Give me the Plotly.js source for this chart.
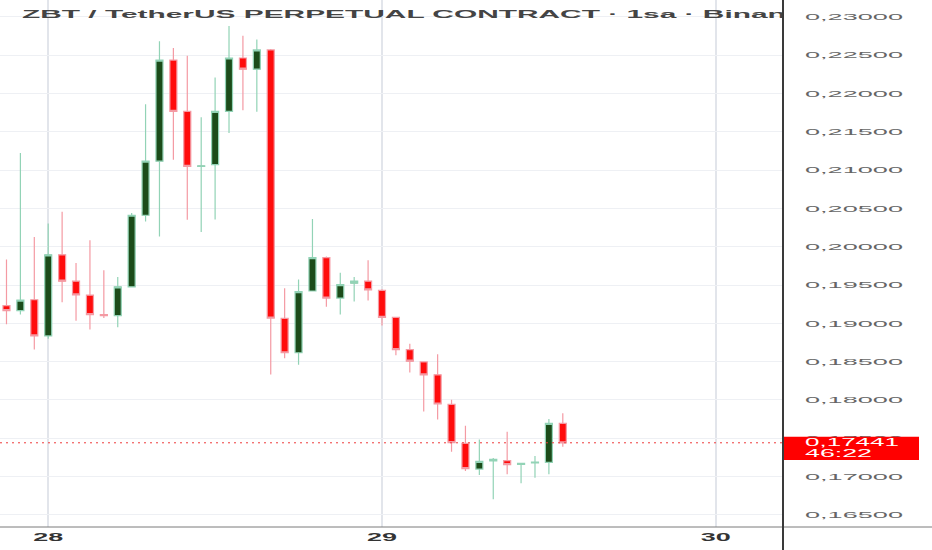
<!DOCTYPE html>
<html>
<head>
<meta charset="utf-8">
<script src="https://cdn.plot.ly/plotly-3.0.1.min.js"></script>
<style>
html,body{margin:0;padding:0;background:#ffffff;}
#chart{width:932px;height:550px;}
</style>
</head>
<body>
<div id="chart"></div>
<script>
// ---------- data ----------
const chartTitle = 'ZBT / TetherUS PERPETUAL CONTRACT · 1sa · Binance';

const times = [
  '2025-11-27 21:00','2025-11-27 22:00','2025-11-27 23:00',
  '2025-11-28 00:00','2025-11-28 01:00','2025-11-28 02:00','2025-11-28 03:00',
  '2025-11-28 04:00','2025-11-28 05:00','2025-11-28 06:00','2025-11-28 07:00',
  '2025-11-28 08:00','2025-11-28 09:00','2025-11-28 10:00','2025-11-28 11:00',
  '2025-11-28 12:00','2025-11-28 13:00','2025-11-28 14:00','2025-11-28 15:00',
  '2025-11-28 16:00','2025-11-28 17:00','2025-11-28 18:00','2025-11-28 19:00',
  '2025-11-28 20:00','2025-11-28 21:00','2025-11-28 22:00','2025-11-28 23:00',
  '2025-11-29 00:00','2025-11-29 01:00','2025-11-29 02:00','2025-11-29 03:00',
  '2025-11-29 04:00','2025-11-29 05:00','2025-11-29 06:00','2025-11-29 07:00',
  '2025-11-29 08:00','2025-11-29 09:00','2025-11-29 10:00','2025-11-29 11:00',
  '2025-11-29 12:00','2025-11-29 13:00'
];

const opens = [
  0.19230,0.19166,0.19308,
  0.18836,0.19894,0.19550,0.19367,
  0.19115,0.19102,0.19477,0.20411,
  0.21117,0.22436,0.21767,0.21048,
  0.21071,0.21767,0.22463,0.22317,
  0.22569,0.19065,0.18616,0.19422,
  0.19857,0.19330,0.19523,0.19550,
  0.19431,0.19079,0.18657,0.18497,
  0.18328,0.17943,0.17434,0.17098,
  0.17206,0.17207,0.17160,0.17178,
  0.17186,0.17695
];

const highs = [
  0.19834,0.21222,0.20127,
  0.20302,0.20457,0.19789,0.20086,
  0.19692,0.19605,0.20439,0.21859,
  0.22683,0.22592,0.22491,0.21689,
  0.22208,0.22880,0.22752,0.22706,
  0.22582,0.19459,0.19573,0.20361,
  0.19871,0.19660,0.19605,0.19825,
  0.19445,0.19079,0.18735,0.18506,
  0.18598,0.18002,0.17663,0.17485,
  0.17242,0.17585,0.17178,0.17268,
  0.17751,0.17825
];

const lows = [
  0.18987,0.19115,0.18657,
  0.18800,0.19276,0.19033,0.18918,
  0.19070,0.18950,0.19477,0.20329,
  0.20132,0.21135,0.20351,0.20191,
  0.20356,0.21483,0.21782,0.21763,
  0.18332,0.18543,0.18460,0.19422,
  0.19216,0.19115,0.19285,0.19298,
  0.18973,0.18584,0.18360,0.17851,
  0.17746,0.17325,0.17073,0.17020,
  0.16703,0.17030,0.16912,0.16985,
  0.17030,0.17390
];

const closes = [
  0.19166,0.19303,0.18836,
  0.19894,0.19550,0.19372,0.19115,
  0.19102,0.19477,0.20411,0.21117,
  0.22436,0.21767,0.21048,0.21057,
  0.21767,0.22463,0.22317,0.22569,
  0.19069,0.18616,0.19413,0.19857,
  0.19330,0.19505,0.19550,0.19436,
  0.19079,0.18657,0.18506,0.18328,
  0.17947,0.17444,0.17105,0.17199,
  0.17226,0.17155,0.17173,0.17188,
  0.17695,0.17441
];

const dayTicks  = ['2025-11-28','2025-11-29','2025-11-30'];
const dayLabels = ['28','29','30'];

const priceTicks = [0.165,0.170,0.175,0.180,0.185,0.190,0.195,0.200,
                    0.205,0.210,0.215,0.220,0.225,0.230];

const lastPrice = 0.17441;
const countdown = '46:22';

// ---------- helpers ----------
const fmtPrice = v => v.toFixed(5).replace('.', ',');
const FONT = 'Liberation Sans, Arial, sans-serif';

const W = 932, H = 550, plotRight = 783, plotBottom = 527;

const trace = {
  type: 'candlestick',
  x: times, open: opens, high: highs, low: lows, close: closes,
  increasing: { line: { color: '#92d3b6', width: 1.2 }, fillcolor: '#1c4c1a' },
  decreasing: { line: { color: '#f49aa3', width: 1.2 }, fillcolor: '#ff0c0c' },
  whiskerwidth: 0,
  hoverinfo: 'skip'
};

const layout = {
  width: W, height: H,
  margin: { l: 0, r: W - plotRight, t: 0, b: H - plotBottom, pad: 0 },
  paper_bgcolor: '#ffffff', plot_bgcolor: '#ffffff',
  showlegend: false,
  separators: ',.',
  boxgap: 0.28,
  title: {
    text: chartTitle,
    x: 22 / W, xref: 'container', xanchor: 'left',
    y: 1 - 13.5 / H, yref: 'container', yanchor: 'middle',
    font: { family: FONT, size: 11.5, color: '#444444', weight: 'bold' }
  },
  xaxis: {
    type: 'date',
    range: ['2025-11-27 20:32', '2025-11-30 04:50'],
    rangeslider: { visible: false },
    tickvals: dayTicks, ticktext: dayLabels,
    showgrid: true, gridcolor: '#e2e5eb', gridwidth: 2,
    zeroline: false, showline: false, ticks: '',
    ticklabelstandoff: 3,
    tickfont: { family: FONT, size: 10, color: '#333333', weight: 'bold' },
    fixedrange: true
  },
  yaxis: {
    side: 'right',
    range: [0.16342, 0.2322],
    tickvals: priceTicks, ticktext: priceTicks.map(fmtPrice),
    showgrid: true, gridcolor: '#eef0f4', gridwidth: 1,
    zeroline: false, showline: false, ticks: '',
    ticklabelstandoff: 21,
    tickfont: { family: FONT, size: 9.2, color: '#666666' },
    fixedrange: true
  },
  shapes: [
    { type: 'line', xref: 'paper', yref: 'y', x0: 0, x1: 1, y0: lastPrice, y1: lastPrice,
      line: { color: '#ee3b3b', width: 1, dash: '2px,4px' }, layer: 'above' },
    { type: 'rect', xref: 'paper', x0: 1, x1: 919 / plotRight,
      yref: 'y', ysizemode: 'pixel', yanchor: lastPrice, y0: -17.2, y1: 6.1,
      fillcolor: '#ff0000', line: { width: 0 }, layer: 'above' },
    { type: 'line', xref: 'paper', yref: 'paper', x0: 0, x1: W / plotRight, y0: 0, y1: 0,
      line: { color: '#7a7a7a', width: 1 }, layer: 'above' },
    { type: 'line', xref: 'paper', yref: 'paper', x0: 1, x1: 1, y0: -0.1, y1: 1.05,
      line: { color: '#3a3a3a', width: 2 }, layer: 'above' }
  ],
  annotations: [
    { xref: 'paper', x: 1, xanchor: 'left', xshift: 21, yref: 'y', y: lastPrice,
      yanchor: 'middle', yshift: 0.5, showarrow: false, align: 'left', borderpad: 0,
      text: fmtPrice(lastPrice), font: { family: FONT, size: 10, color: '#ffffff' } },
    { xref: 'paper', x: 1, xanchor: 'left', xshift: 21, yref: 'y', y: lastPrice,
      yanchor: 'middle', yshift: -10.5, showarrow: false, align: 'left', borderpad: 0,
      text: countdown, font: { family: FONT, size: 10, color: '#ffffff' } }
  ]
};

function stretchTo(el, target) {
  el.setAttribute('textLength', target);
  el.setAttribute('lengthAdjust', 'spacingAndGlyphs');
}

Plotly.newPlot('chart', [trace], layout, { displayModeBar: false, staticPlot: true }).then(gd => {
  const ns = 'http://www.w3.org/2000/svg';
  gd.querySelectorAll('.ytick text').forEach(t => stretchTo(t, 98));
  gd.querySelectorAll('.xtick text').forEach(t => stretchTo(t, 30));
  const ann = gd.querySelectorAll('.annotation-text');
  if (ann[0]) stretchTo(ann[0], 94);
  if (ann[1]) stretchTo(ann[1], 67);

  const title = gd.querySelector('.gtitle');
  if (title) {
    let sub = 0;
    try { sub = title.getSubStringLength(0, 14); } catch (e) { sub = 0; }
    const total = title.getComputedTextLength();
    const s = sub > 0 ? 213.5 / sub : 2.55;
    stretchTo(title, total * s);
    const svg = title.ownerSVGElement;
    let defs = svg.querySelector('defs');
    if (!defs) { defs = document.createElementNS(ns, 'defs'); svg.insertBefore(defs, svg.firstChild); }
    const cp = document.createElementNS(ns, 'clipPath');
    cp.setAttribute('id', 'titleclip');
    const r = document.createElementNS(ns, 'rect');
    r.setAttribute('x', 0); r.setAttribute('y', 0);
    r.setAttribute('width', plotRight - 1); r.setAttribute('height', 60);
    cp.appendChild(r); defs.appendChild(cp);
    title.setAttribute('clip-path', 'url(#titleclip)');
  }
});
</script>
</body>
</html>
